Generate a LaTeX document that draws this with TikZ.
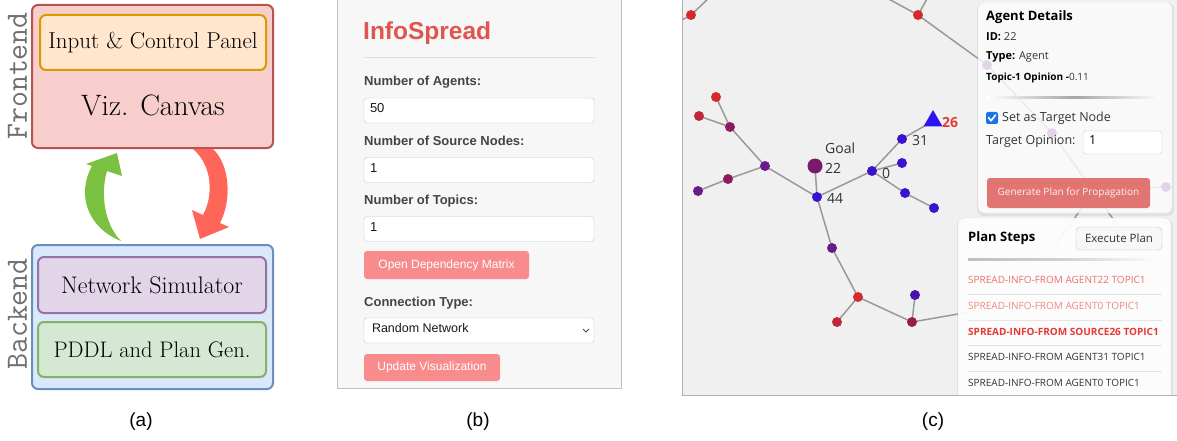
\documentclass[tikz,border=0pt]{standalone}
\usepackage{fontspec}
\newfontfamily\arialf{Liberation Sans}
\newfontfamily\segoe{Open Sans}
\usetikzlibrary{shapes.geometric}
\newcommand\fsz[2]{\fontsize{#1}{#2}\selectfont}
\definecolor{frfill}{HTML}{F8CECC}\definecolor{frdraw}{HTML}{B85450}
\definecolor{icfill}{HTML}{FFE6CC}\definecolor{icdraw}{HTML}{D79B00}
\definecolor{bkfill}{HTML}{DAE8FC}\definecolor{bkdraw}{HTML}{6C8EBF}
\definecolor{nsfill}{HTML}{E1D5E7}\definecolor{nsdraw}{HTML}{9673A6}
\definecolor{pdfill}{HTML}{D5E8D4}\definecolor{pddraw}{HTML}{82B366}
\definecolor{garrow}{HTML}{7AC142}\definecolor{rarrow}{HTML}{FF6659}
\definecolor{sidegray}{HTML}{707070}
\definecolor{bbg}{HTML}{F7F7F7}\definecolor{lblgray}{HTML}{444444}
\definecolor{infored}{HTML}{E05550}\definecolor{btnred}{HTML}{F88C8C}
\definecolor{cbg}{HTML}{F0F0F0}
\definecolor{nred}{HTML}{D42A2A}\definecolor{nred2}{HTML}{C0283A}
\definecolor{nmaroon}{HTML}{8C1B60}\definecolor{npurple}{HTML}{6B1A8E}
\definecolor{nblue}{HTML}{3A12CF}\definecolor{ntri}{HTML}{2E14F2}
\definecolor{ngoal}{HTML}{7A1A6C}\definecolor{nplum}{HTML}{9A1B4B}
\definecolor{nindigo}{HTML}{4A12A8}
\definecolor{genbtn}{HTML}{E17572}\definecolor{chk}{HTML}{1A73E8}
\definecolor{step1}{HTML}{E8736A}\definecolor{step2}{HTML}{EE8B80}
\definecolor{step3}{HTML}{E53935}\definecolor{txtdark}{HTML}{333333}
\tikzset{
  abox/.style={draw, line width=2, rounded corners=6, inner sep=0},
  sidelbl/.style={rotate=90, text=sidegray, font=\ttfamily\fsz{31}{33}},
  lbl/.style={anchor=mid west, inner sep=0, text=lblgray, font=\arialf\bfseries\fsz{13}{15}},
  inbox/.style={draw=black!22, fill=white, rounded corners=3, minimum width=230, minimum height=25, inner sep=0},
  intext/.style={anchor=mid west, inner sep=0, text=black!90, font=\arialf\fsz{13}{15}},
  bbtn/.style={fill=btnred, rounded corners=3, inner sep=0, text=white, font=\arialf\fsz{12}{14}},
  edge/.style={draw=black!40, line width=1.5},
  gnode/.style={circle, inner sep=0, minimum size=10},
  glbl/.style={anchor=mid west, inner sep=0, text=txtdark, font=\segoe\fsz{14}{16}},
  ptxt/.style={anchor=mid west, inner sep=0, text=black, font=\segoe\fsz{11}{13}},
  steptxt/.style={anchor=mid west, inner sep=0, font=\segoe\fsz{10}{12}},
  sep/.style={draw=black!10, line width=0.8},
  captxt/.style={font=\arialf\fsz{19}{22}}
}
\begin{document}
\begin{tikzpicture}[x=1pt,y=-1pt]
\useasboundingbox (0,0) rectangle (1177,441);
\fill[white] (0,0) rectangle (1177,441);

% ---------------- panel (a)
\node[abox, fill=frfill, draw=frdraw, minimum width=241, minimum height=143] (front) at (152.5,76.5) {};
\node[abox, fill=icfill, draw=icdraw, minimum width=226, minimum height=55, font=\fsz{23}{26}] (icp) at (153,42.5) {Input \& Control Panel};
\node[inner sep=0, font=\fsz{29.5}{32}] (viz) at (153,105) {Viz. Canvas};
\node[abox, fill=bkfill, draw=bkdraw, minimum width=241, minimum height=144] (back) at (152.5,317) {};
\node[abox, fill=nsfill, draw=nsdraw, minimum width=228, minimum height=56, font=\fsz{24}{27}] (ns) at (152,285) {Network Simulator};
\node[abox, fill=pdfill, draw=pddraw, minimum width=228, minimum height=55, font=\fsz{22.5}{26}] (pd) at (152,349.5) {PDDL and Plan Gen.};
\node[sidelbl] (fl) at (17.5,76) {Frontend};
\node[sidelbl] (bl) at (17.5,314) {Backend};
% curved arrows
\fill[garrow] (121,241) .. controls (88,228) and (76,195) .. (92,166)
  -- (86,164) -- (117,153) -- (122,176) -- (107,171)
  .. controls (100,195) and (105,225) .. (121,241) -- cycle;
\fill[rarrow] (193,149) .. controls (212,165) and (214,195) .. (203,215)
  -- (192,210) -- (200,239) -- (229,227) -- (220,223)
  .. controls (232,200) and (230,165) .. (213,149) -- cycle;

% ---------------- panel (b)
\fill[bbg] (337,0) rectangle (621,388);
\draw[black!25] (337,0) -- (337,388) -- (621,388) -- (621,0);
\node[anchor=mid west, inner sep=0, text=infored, font=\arialf\bfseries\fsz{24.5}{28}] (title) at (363,37) {InfoSpread};
\draw[black!12, line width=1] (364,58) -- (595,58);
\node[lbl] (l1) at (364,83) {Number of Agents:};
\node[inbox] (in1) at (479,110.5) {};
\node[intext] at ([xshift=6]in1.west) {50};
\node[lbl] (l2) at (364,143) {Number of Source Nodes:};
\node[inbox] (in2) at (479,170) {};
\node[intext] at ([xshift=6]in2.west) {1};
\node[lbl] (l3) at (364,202) {Number of Topics:};
\node[inbox] (in3) at (479,229) {};
\node[intext] at ([xshift=6]in3.west) {1};
\node[bbtn, minimum width=165, minimum height=28] (b1) at (446.5,265) {Open Dependency Matrix};
\node[lbl] (l4) at (364,304) {Connection Type:};
\node[inbox] (sel) at (479,330.5) {};
\node[intext, font=\arialf\fsz{12.5}{14}] at ([xshift=8]sel.west) {Random Network};
\draw[black!70, line width=0.8] (583,329) -- (586,332) -- (589,329);
\node[bbtn, minimum width=136, minimum height=27] (b2) at (432,367.5) {Update Visualization};

% ---------------- panel (c)
\fill[cbg] (682,0) rectangle (1177,395);
\begin{scope}
\clip (682,0) rectangle (1177,395);
% node positions
\coordinate (A) at (691,15);   \coordinate (B) at (918,15);
\coordinate (R1) at (716,97);  \coordinate (R2) at (699,116);
\coordinate (P1) at (730,127); \coordinate (P2) at (765,166);
\coordinate (P3) at (728,179); \coordinate (P4) at (698,191);
\coordinate (G) at (815,166);  \coordinate (N44) at (817,197);
\coordinate (N0) at (872,171); \coordinate (N31) at (902,139);
\coordinate (T26) at (933,121);
\coordinate (B1) at (902,163); \coordinate (B2) at (905,193);
\coordinate (B3) at (934,208);
\coordinate (P5) at (832,248); \coordinate (R3) at (858,297);
\coordinate (R4) at (837,322); \coordinate (M1) at (912,322);
\coordinate (B4) at (915,295);
\coordinate (H1) at (987,65);  \coordinate (H2) at (1052,133);
\coordinate (H3) at (1128,240); \coordinate (H4) at (1166,187);
\coordinate (H5) at (1095,190); \coordinate (H6) at (1055,245);
\coordinate (H7) at (1010,305);
\coordinate (oA1) at (710,-3); \coordinate (oA2) at (680,21);
\coordinate (oB1) at (885,-3); \coordinate (oB2) at (928,-3);
% edges
\foreach \u/\v in {A/oA1, A/oA2, B/oB1, B/oB2, B/H1, H1/H2, H2/H3, H4/H5, H5/H6,
  R1/P1, R2/P1, P1/P2, P3/P2, P4/P3, P2/N44, G/N44, N44/N0, N0/N31, N31/T26,
  N0/B1, N0/B2, B2/B3, N44/P5, P5/R3, R3/R4, R3/M1, M1/B4, M1/H7}
  \draw[edge] (\u) -- (\v);
% nodes
\node[gnode, fill=nred] (nA) at (A) {};
\node[gnode, fill=nred] (nB) at (B) {};
\node[gnode, fill=nred] (nR1) at (R1) {};
\node[gnode, fill=nred2] (nR2) at (R2) {};
\node[gnode, fill=nmaroon] (nP1) at (P1) {};
\node[gnode, fill=npurple] (nP2) at (P2) {};
\node[gnode, fill=nmaroon] (nP3) at (P3) {};
\node[gnode, fill=npurple] (nP4) at (P4) {};
\node[gnode, fill=ngoal, minimum size=15] (nG) at (G) {};
\node[gnode, fill=nblue] (n44) at (N44) {};
\node[gnode, fill=nblue] (n0) at (N0) {};
\node[gnode, fill=nblue] (n31) at (N31) {};
\node[gnode, fill=nblue] (nB1) at (B1) {};
\node[gnode, fill=nblue] (nB2) at (B2) {};
\node[gnode, fill=nblue] (nB3) at (B3) {};
\node[gnode, fill=npurple] (nP5) at (P5) {};
\node[gnode, fill=nred] (nR3) at (R3) {};
\node[gnode, fill=nred2] (nR4) at (R4) {};
\node[gnode, fill=nplum] (nM1) at (M1) {};
\node[gnode, fill=nindigo] (nB4) at (B4) {};
\node[gnode, fill=npurple] (nH1) at (H1) {};
\node[gnode, fill=npurple] (nH2) at (H2) {};
\node[gnode, fill=npurple] (nH4) at (H4) {};
\node[regular polygon, regular polygon sides=3, minimum size=22, inner sep=0, fill=ntri] (n26) at (T26) {};
% labels
\node[glbl] (lgoal) at (825,151) {Goal};
\node[glbl] (l22) at (825,171) {22};
\node[glbl] (l44) at (827,201) {44};
\node[glbl] (l0) at (882,176) {0};
\node[glbl] (l31) at (912,143) {31};
\node[glbl, text=step3, font=\segoe\bfseries\fsz{14}{16}] (l26) at (942,125) {26};

% agent details panel
\fill[black, opacity=0.06, rounded corners=6] (977,3) rectangle (1174,216);
\draw[draw=black!12, fill=white, fill opacity=0.82, rounded corners=6] (978,2) rectangle (1172,213);
\node[ptxt, font=\segoe\bfseries\fsz{13}{15}] (adt) at (986,18) {Agent Details};
\node[ptxt] (aid) at (986,38) {\textbf{ID:} \textcolor{txtdark}{22}};
\node[ptxt] (aty) at (986,57) {\textbf{Type:} \textcolor{txtdark}{Agent}};
\node[ptxt, font=\segoe\fsz{10}{13}] (aop) at (986,78) {\textbf{Topic-1 Opinion -}\textcolor{txtdark}{0.11}};
\shade[left color=white, right color=white, middle color=black!35] (986,97) rectangle (1162,99);
\node[fill=chk, rounded corners=2, minimum size=12, inner sep=0] (cb) at (992,118) {};
\draw[white, line width=1.6, line cap=round, line join=round] ([xshift=-3.5,yshift=0.5]cb.center) -- ([xshift=-1,yshift=-2.8]cb.center) -- ([xshift=3.5,yshift=3]cb.center);
\node[ptxt, font=\segoe\fsz{12.5}{15}, text=txtdark] (stn) at (1002,119) {Set as Target Node};
\node[ptxt, font=\segoe\fsz{12.5}{15}, text=txtdark] (tol) at (986,142) {Target Opinion:};
\node[draw=black!22, fill=white, rounded corners=3, minimum width=79, minimum height=23, inner sep=0] (tin) at (1122.5,142.5) {};
\node[ptxt, font=\segoe\fsz{12.5}{15}] at ([xshift=6]tin.west) {1};
\node[fill=genbtn, rounded corners=3, minimum width=163, minimum height=30, inner sep=0, text=white!90!genbtn, font=\segoe\fsz{10}{12}] (gen) at (1068.5,193) {Generate Plan for Propagation};

% plan steps panel
\fill[black, opacity=0.06, rounded corners=6] (957,219) rectangle (1173,400);
\draw[draw=black!12, fill=white, fill opacity=0.93, rounded corners=6] (958,218) rectangle (1171,405);
\node[ptxt, font=\segoe\bfseries\fsz{13}{15}] (pst) at (968,239) {Plan Steps};
\node[draw=black!22, fill=white!97!black, rounded corners=4, minimum width=86, minimum height=23, inner sep=0, text=txtdark, font=\segoe\fsz{11.5}{14}] (exe) at (1119,238.5) {Execute Plan};
\shade[left color=black!25, right color=white, middle color=black!18] (968,258.5) rectangle (1162,260);
\node[steptxt, text=step1] (s1) at (968,281) {SPREAD-INFO-FROM AGENT22 TOPIC1};
\draw[sep] (968,294) -- (1162,294);
\node[steptxt, text=step2] (s2) at (968,307) {SPREAD-INFO-FROM AGENT0 TOPIC1};
\draw[sep] (968,320) -- (1162,320);
\node[steptxt, text=step3, font=\segoe\bfseries\fsz{10}{12}] (s3) at (968,333) {SPREAD-INFO-FROM SOURCE26 TOPIC1};
\draw[sep] (968,345.5) -- (1162,345.5);
\node[steptxt, text=txtdark] (s4) at (968,358) {SPREAD-INFO-FROM AGENT31 TOPIC1};
\draw[sep] (968,371) -- (1162,371);
\node[steptxt, text=txtdark] (s5) at (968,384) {SPREAD-INFO-FROM AGENT0 TOPIC1};
\end{scope}
\draw[black!30, line width=1] (682.5,0) -- (682.5,395.5) -- (1177,395.5);

% captions
\node[captxt] (ca) at (141,422) {(a)};
\node[captxt] (cb2) at (478,422) {(b)};
\node[captxt] (cc) at (933,422) {(c)};
\end{tikzpicture}
\end{document}
